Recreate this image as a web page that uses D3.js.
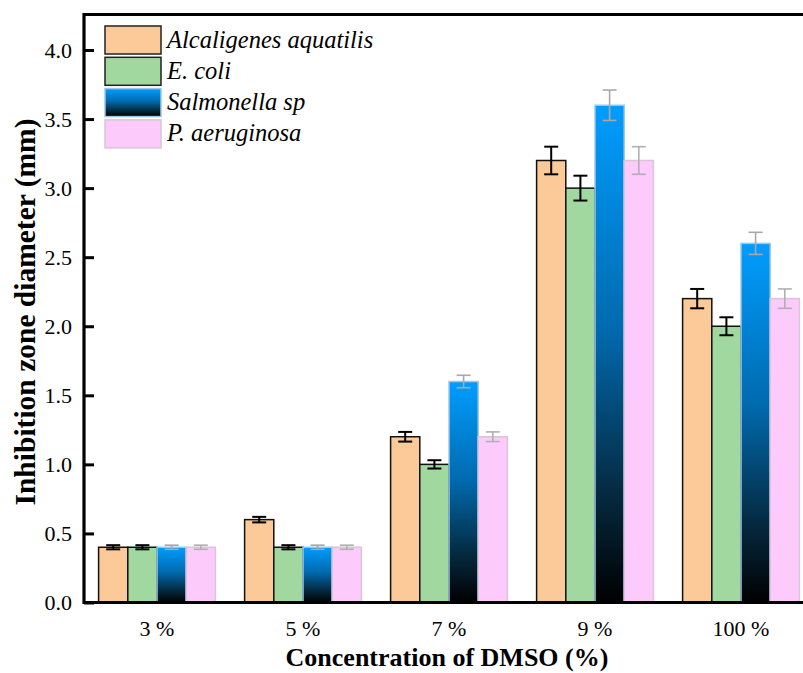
<!DOCTYPE html>
<html><head><meta charset="utf-8">
<script src="https://cdn.jsdelivr.net/npm/d3@7/dist/d3.min.js"></script>
</head><body style="margin:0;background:#fff">
<svg id="c" width="803" height="673" style="display:block"></svg>
<script>
const categories = ["3 %", "5 %", "7 %", "9 %", "100 %"];
const seriesNames = ["Alcaligenes aquatilis", "E. coli", "Salmonella sp", "P. aeruginosa"];
const aquatilis = [0.4, 0.6, 1.2, 3.2, 2.2];
const ecoli = [0.4, 0.4, 1.0, 3.0, 2.0];
const salmonella = [0.4, 0.4, 1.6, 3.6, 2.6];
const aeruginosa = [0.4, 0.4, 1.2, 3.2, 2.2];
const errAquatilis = [0.015, 0.02, 0.035, 0.1, 0.07];
const errEcoli = [0.015, 0.015, 0.03, 0.09, 0.065];
const errSalmonella = [0.015, 0.015, 0.045, 0.11, 0.08];
const errAeruginosa = [0.015, 0.015, 0.035, 0.1, 0.07];
const yTicks = [0, 0.5, 1.0, 1.5, 2.0, 2.5, 3.0, 3.5, 4.0];

const values = [aquatilis, ecoli, salmonella, aeruginosa];
const errors = [errAquatilis, errEcoli, errSalmonella, errAeruginosa];
const fills = ["#FCC998", "#A0D8A0", "url(#gradBlue)", "#FCCBFC"];
const strokes = ["#111", "#111", "#9fc8e6", "#d9c4d9"];
const errColors = ["#000", "#000", "#a8a8a8", "#b0b0b0"];
const FONT = "'Liberation Serif', 'Times New Roman', serif";

const svg = d3.select("#c");
const defs = svg.append("defs");
const g = defs.append("linearGradient").attr("id", "gradBlue")
  .attr("x1", 0).attr("y1", 0).attr("x2", 0).attr("y2", 1);
g.append("stop").attr("offset", "0%").attr("stop-color", "#009DFF");
g.append("stop").attr("offset", "45%").attr("stop-color", "#006AAE");
g.append("stop").attr("offset", "80%").attr("stop-color", "#05263A");
g.append("stop").attr("offset", "100%").attr("stop-color", "#000");

const pLeft = 84, pBottom = 602.5, pTop = 14.5, pRight = 814;
const x0 = d3.scaleBand().domain(categories).range([pLeft, pRight]).padding(0);
const x1 = d3.scaleBand().domain(d3.range(4))
  .range([x0.bandwidth() * 0.1, x0.bandwidth() * 0.9]).padding(0);
const y = d3.scaleLinear().domain([0, 4.257]).range([pBottom, pTop]);

// bars
const groups = svg.append("g").selectAll("g").data(categories).join("g")
  .attr("transform", d => `translate(${x0(d)},0)`);
groups.each(function(cat, ci) {
  const sel = d3.select(this);
  for (let s = 0; s < 4; s++) {
    const v = values[s][ci];
    sel.append("rect")
      .attr("x", x1(s)).attr("width", x1.bandwidth())
      .attr("y", y(v)).attr("height", y(0) - y(v))
      .attr("fill", fills[s]).attr("stroke", strokes[s]).attr("stroke-width", 1.5);
  }
  for (let s = 0; s < 4; s++) {
    const v = values[s][ci], e = errors[s][ci];
    const cx = x1(s) + x1.bandwidth() / 2;
    const w = s < 2 ? 2 : 1.6;
    const eg = sel.append("g").attr("stroke", errColors[s]).attr("stroke-width", w);
    eg.append("line").attr("x1", cx).attr("x2", cx).attr("y1", y(v + e)).attr("y2", y(v - e));
    eg.append("line").attr("x1", cx - 7).attr("x2", cx + 7).attr("y1", y(v + e)).attr("y2", y(v + e));
    eg.append("line").attr("x1", cx - 7).attr("x2", cx + 7).attr("y1", y(v - e)).attr("y2", y(v - e));
  }
});

// axes
const yAxis = d3.axisLeft(y).tickValues(yTicks).tickFormat(d3.format(".1f")).tickSizeInner(-10).tickSizeOuter(0).tickPadding(12);
const ya = svg.append("g").attr("transform", `translate(${pLeft},0)`).call(yAxis);
ya.select(".domain").remove();
ya.selectAll(".tick line").attr("stroke", "#000").attr("stroke-width", 3);
ya.selectAll(".tick text").style("font-family", FONT).style("font-size", "22px").attr("fill", "#000");

const xAxis = d3.axisBottom(x0).tickSize(0).tickPadding(18);
const xa = svg.append("g").attr("transform", `translate(0,${pBottom})`).call(xAxis);
xa.select(".domain").remove();
xa.selectAll(".tick text").style("font-family", FONT).style("font-size", "22px").attr("fill", "#000");

// frame
svg.append("path").attr("d", `M${pRight},${pTop}H${pLeft}V${pBottom}H${pRight}`)
  .attr("fill", "none").attr("stroke", "#000").attr("stroke-width", 3.2);

// titles
svg.append("text").attr("x", 447).attr("y", 666).attr("text-anchor", "middle")
  .style("font-family", FONT).style("font-size", "26px").style("font-weight", "bold")
  .text("Concentration of DMSO (%)");
svg.append("text").attr("transform", "translate(35,312) rotate(-90)")
  .attr("text-anchor", "middle")
  .style("font-family", FONT).style("font-size", "29.5px").style("font-weight", "bold")
  .text("Inhibition zone diameter (mm)");

// legend
const lg = svg.append("g").attr("transform", "translate(105,26)");
seriesNames.forEach((name, i) => {
  const row = lg.append("g").attr("transform", `translate(0,${i * 31.3})`);
  row.append("rect").attr("x", 0).attr("y", 0).attr("width", 56).attr("height", 28)
    .attr("fill", fills[i]).attr("stroke", i < 2 ? "#222" : strokes[i]).attr("stroke-width", 1.5);
  row.append("text").attr("x", 62).attr("y", 21.5)
    .style("font-family", FONT).style("font-size", "24.5px").style("font-style", "italic")
    .text(name);
});
</script>
</body></html>
